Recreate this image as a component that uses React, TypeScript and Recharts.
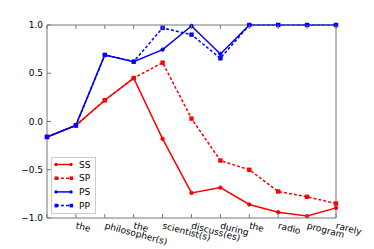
import { Line, LineChart, XAxis, YAxis } from "recharts";

const words = ["", "the", "philosopher(s)", "the", "scientist(s)", "discuss(es)", "during", "the", "radio", "program", "rarely"];
const ss = [-0.16, -0.04, 0.22, 0.45, -0.18, -0.74, -0.685, -0.86, -0.94, -0.98, -0.895];
const sp = [-0.16, -0.04, 0.22, 0.45, 0.61, 0.03, -0.405, -0.5, -0.725, -0.78, -0.85];
const ps = [-0.16, -0.04, 0.69, 0.62, 0.745, 0.99, 0.7, 1.0, 1.0, 1.0, 1.0];
const pp = [-0.16, -0.04, 0.69, 0.62, 0.97, 0.9, 0.655, 1.0, 1.0, 1.0, 1.0];
const yTicks = [-1, -0.5, 0, 0.5, 1];

const data = words.map((w, i) => ({ pos: i, word: w, SS: ss[i], SP: sp[i], PS: ps[i], PP: pp[i] }));
const xTicks = words.map((_, i) => i);

const FONT = "DejaVu Sans";
const FRAME = "#777";

const fmtY = (v: number) => (v < 0 ? "\u2212" + Math.abs(v).toFixed(1) : v.toFixed(1));

const BottomTick = (props: any) => {
  const { x, y, payload } = props;
  return (
    <g>
      <line x1={x} y1={y} x2={x} y2={y - 4} stroke={FRAME} />
      <text
        x={x + 1}
        y={y + 4}
        transform={`rotate(15, ${x + 1}, ${y + 4})`}
        textAnchor="start"
        dominantBaseline="hanging"
        fontSize={9}
        fontFamily={FONT}
        fill="#000"
      >
        {words[payload.value]}
      </text>
    </g>
  );
};

const TopTick = (props: any) => {
  const { x, y } = props;
  return <line x1={x} y1={y} x2={x} y2={y + 4} stroke={FRAME} />;
};

const LeftTick = (props: any) => {
  const { x, y, payload } = props;
  return (
    <g>
      <line x1={x} y1={y} x2={x + 4} y2={y} stroke={FRAME} />
      <text x={x - 4} y={y} textAnchor="end" dominantBaseline="central" fontSize={9} fontFamily={FONT} fill="#000">
        {fmtY(payload.value)}
      </text>
    </g>
  );
};

const RightTick = (props: any) => {
  const { x, y } = props;
  return <line x1={x} y1={y} x2={x - 4} y2={y} stroke={FRAME} />;
};

const roundDot = (color: string) => (p: any) => (
  <circle key={`c${p.index}`} cx={p.cx} cy={p.cy} r={1.7} fill={color} stroke={color} />
);
const squareDot = (color: string) => (p: any) => (
  <rect key={`s${p.index}`} x={p.cx - 2.2} y={p.cy - 2.2} width={4.4} height={4.4} fill={color} />
);

const entries = [
  { name: "SS", color: "#ff0000", dash: undefined, square: false },
  { name: "SP", color: "#ff0000", dash: "3 2", square: true },
  { name: "PS", color: "#0000ff", dash: undefined, square: false },
  { name: "PP", color: "#0000ff", dash: "3 2", square: true },
];

const LegendBox = () => (
  <svg width={45} height={57} style={{ position: "absolute", left: 51, top: 157 }}>
    <rect x={0.5} y={0.5} width={44} height={56} fill="#fff" stroke="#ccc" />
    {entries.map((e, i) => {
      const cy = 7.5 + i * 13.7;
      return (
        <g key={e.name}>
          <line x1={5} y1={cy} x2={20} y2={cy} stroke={e.color} strokeWidth={1.5} strokeDasharray={e.dash} />
          {e.square ? (
            <>
              <rect x={3.5} y={cy - 1.8} width={3.6} height={3.6} fill={e.color} />
              <rect x={18.5} y={cy - 1.8} width={3.6} height={3.6} fill={e.color} />
            </>
          ) : (
            <>
              <circle cx={5} cy={cy} r={1.7} fill={e.color} />
              <circle cx={20} cy={cy} r={1.7} fill={e.color} />
            </>
          )}
          <text x={28} y={cy} dominantBaseline="central" fontSize={9} fontFamily={FONT} fill="#000">
            {e.name}
          </text>
        </g>
      );
    })}
  </svg>
);

export default function App() {
  return (
    <div style={{ position: "absolute", left: 0, top: 0, width: 374, height: 249, background: "#fff" }}>
      <LineChart width={374} height={249} data={data} margin={{ top: 24, right: 37, bottom: 0, left: 7 }}>
        <XAxis
          xAxisId="b"
          dataKey="pos"
          type="number"
          domain={[0, 10]}
          ticks={xTicks}
          interval={0}
          height={31}
          tickSize={0}
          tickMargin={0}
          tickLine={false}
          axisLine={{ stroke: FRAME }}
          tick={<BottomTick />}
        />
        <XAxis
          xAxisId="t"
          orientation="top"
          dataKey="pos"
          type="number"
          domain={[0, 10]}
          ticks={xTicks}
          interval={0}
          height={1}
          tickSize={0}
          tickMargin={0}
          tickLine={false}
          axisLine={{ stroke: FRAME }}
          tick={<TopTick />}
        />
        <YAxis
          yAxisId="l"
          type="number"
          domain={[-1, 1]}
          ticks={yTicks}
          interval={0}
          width={40}
          tickSize={0}
          tickMargin={0}
          tickLine={false}
          axisLine={{ stroke: FRAME }}
          tick={<LeftTick />}
        />
        <YAxis
          yAxisId="r"
          orientation="right"
          type="number"
          domain={[-1, 1]}
          ticks={yTicks}
          interval={0}
          width={1}
          tickSize={0}
          tickMargin={0}
          tickLine={false}
          axisLine={{ stroke: FRAME }}
          tick={<RightTick />}
        />
        <Line xAxisId="b" yAxisId="l" dataKey="SS" stroke="#ff0000" strokeWidth={1.5} dot={roundDot("#ff0000")} isAnimationActive={false} />
        <Line xAxisId="b" yAxisId="l" dataKey="SP" stroke="#ff0000" strokeWidth={1.5} strokeDasharray="3 2" dot={squareDot("#ff0000")} isAnimationActive={false} />
        <Line xAxisId="b" yAxisId="l" dataKey="PS" stroke="#0000ff" strokeWidth={1.5} dot={roundDot("#0000ff")} isAnimationActive={false} />
        <Line xAxisId="b" yAxisId="l" dataKey="PP" stroke="#0000ff" strokeWidth={1.5} strokeDasharray="3 2" dot={squareDot("#0000ff")} isAnimationActive={false} />
      </LineChart>
      <LegendBox />
    </div>
  );
}
